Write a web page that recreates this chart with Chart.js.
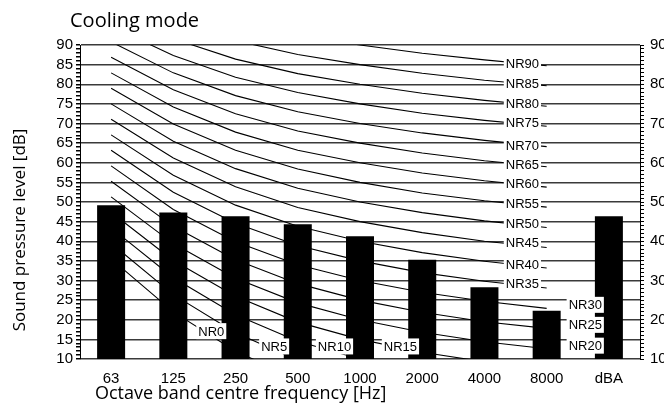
<!DOCTYPE html>
<html>
  <head>
    <script src="https://cdn.jsdelivr.net/npm/chart.js@4.4.1/dist/chart.umd.min.js"></script>
    <style>
      body {
        margin: 0;
        background-color: white;
        overflow: hidden;
      }
    </style>
  </head>
  <body>
    <canvas id="nrChart" width="700" height="405"></canvas>
  <script>
    // Octave bands and measured sound pressure levels (bars)
    const bands = ['63', '125', '250', '500', '1000', '2000', '4000', '8000', 'dBA'];
    const levels = [49.2, 47.3, 46.4, 44.3, 41.3, 35.3, 28.3, 22.3, 46.4];

    // NR curve values at 63 ... 8000 Hz (no value for dBA)
    const nrNames = ['NR0', 'NR5', 'NR10', 'NR15', 'NR20', 'NR25', 'NR30', 'NR35', 'NR40', 'NR45',
                     'NR50', 'NR55', 'NR60', 'NR65', 'NR70', 'NR75', 'NR80', 'NR85', 'NR90'];
    const nrValues = [
      [35.5, 22.0, 12.0, 4.8, 0, -3.5, -6.1, -8.0, null],
      [39.5, 26.4, 16.7, 9.7, 5, 1.6, -1.0, -2.9, null],
      [43.4, 30.7, 21.3, 14.5, 10, 6.7, 4.2, 2.3, null],
      [47.4, 35.1, 26.0, 19.4, 15, 11.7, 9.3, 7.5, null],
      [51.3, 39.4, 30.6, 24.3, 20, 16.8, 14.4, 12.6, null],
      [55.3, 43.8, 35.3, 29.2, 25, 21.9, 19.5, 17.8, null],
      [59.2, 48.1, 39.9, 34.0, 30, 27.0, 24.7, 22.9, null],
      [63.2, 52.5, 44.6, 38.9, 35, 32.0, 29.8, 28.1, null],
      [67.1, 56.8, 49.2, 43.8, 40, 37.1, 34.9, 33.2, null],
      [71.1, 61.2, 53.9, 48.6, 45, 42.2, 40.0, 38.4, null],
      [75.0, 65.5, 58.5, 53.5, 50, 47.3, 45.2, 43.5, null],
      [79.0, 69.9, 63.2, 58.4, 55, 52.3, 50.3, 48.7, null],
      [82.9, 74.2, 67.8, 63.2, 60, 57.4, 55.4, 53.8, null],
      [86.9, 78.6, 72.5, 68.1, 65, 62.5, 60.5, 59.0, null],
      [90.8, 82.9, 77.1, 73.0, 70, 67.6, 65.7, 64.1, null],
      [94.8, 87.3, 81.8, 77.9, 75, 72.6, 70.8, 69.3, null],
      [98.7, 91.6, 86.4, 82.7, 80, 77.7, 75.9, 74.4, null],
      [102.7, 96.0, 91.1, 87.6, 85, 82.8, 81.0, 79.6, null],
      [106.6, 100.3, 95.7, 92.5, 90, 87.9, 86.2, 84.7, null]
    ];
    // where each NR label sits (category index, dB)
    const nrLabelX = [1.61, 2.62, 3.59, 4.65, 7.62, 7.62, 7.62, 6.61, 6.61, 6.61,
                      6.61, 6.61, 6.61, 6.61, 6.61, 6.61, 6.61, 6.61, 6.61];
    const nrLabelY = [17.1, 13.2, 13.2, 13.2, 13.4, 18.7, 23.8, 29.3, 34.0, 39.6,
                      44.6, 49.7, 54.8, 59.7, 64.5, 70.2, 75.1, 80.1, 85.3];

    // labels drawn over the bars, with a white box behind
    const nrLabelPlugin = {
      id: 'nrLabels',
      afterDatasetsDraw(chart) {
        const ctx = chart.ctx;
        const xs = chart.scales.x, ys = chart.scales.y;
        ctx.save();
        ctx.font = '13px "Liberation Sans"';
        ctx.textAlign = 'center';
        ctx.textBaseline = 'middle';
        for (let i = 0; i < nrNames.length; i++) {
          const x = xs.getPixelForValue(nrLabelX[i]);
          const y = ys.getPixelForValue(nrLabelY[i]);
          const w = ctx.measureText(nrNames[i]).width + 4;
          ctx.fillStyle = 'white';
          ctx.fillRect(x - w / 2, y - 8, w, 16);
          ctx.fillStyle = 'black';
          ctx.fillText(nrNames[i], x, y + 1);
        }
        ctx.restore();
      }
    };

    // chart title and axis titles
    const titlePlugin = {
      id: 'titles',
      afterDraw(chart) {
        const ctx = chart.ctx;
        ctx.save();
        ctx.fillStyle = 'black';
        ctx.textBaseline = 'alphabetic';
        ctx.textAlign = 'left';
        ctx.font = '20px "Open Sans"';
        ctx.fillText('Cooling mode', 70, 27);
        ctx.font = '18px "Open Sans"';
        ctx.fillText('Octave band centre frequency [Hz]', 95, 399);
        ctx.translate(25, 230);
        ctx.rotate(-Math.PI / 2);
        ctx.textAlign = 'center';
        ctx.font = '17px "Open Sans"';
        ctx.fillText('Sound pressure level [dB]', 0, 0);
        ctx.restore();
      }
    };

    let datasets = [{
      type: 'bar',
      data: levels,
      backgroundColor: 'black',
      barPercentage: 0.45,
      categoryPercentage: 1,
      order: 0
    }];
    for (let i = 0; i < nrValues.length; i++) {
      datasets.push({
        type: 'line',
        label: nrNames[i],
        data: nrValues[i],
        borderColor: 'black',
        borderWidth: 1.1,
        pointRadius: 0,
        tension: 0,
        fill: false,
        order: 1
      });
    }

    var ctx = document.getElementById('nrChart').getContext('2d');
    var nrChart = new Chart(ctx, {
      type: 'bar',
      data: {
        labels: bands,
        datasets: datasets
      },
      options: {
        responsive: false,
        animation: false,
        devicePixelRatio: 1,
        layout: { padding: { top: 45, left: 0, right: 0, bottom: 0 } },
        plugins: {
          legend: { display: false },
          tooltip: { enabled: false }
        },
        scales: {
          x: {
            offset: true,
            grid: { display: false },
            border: { display: false },
            ticks: {
              color: 'black',
              padding: 3,
              font: { family: 'Liberation Sans', size: 15 }
            },
            afterFit(scale) { scale.height = 46; }
          },
          y: {
            min: 10,
            max: 90,
            position: 'left',
            border: { color: 'black', width: 1 },
            grid: {
              color: (c) => (c.tick && c.tick.value % 5 === 0) ? '#3a3a3a' : 'rgba(0,0,0,0)',
              lineWidth: 1.5,
              tickColor: 'black',
              tickLength: 4
            },
            ticks: {
              stepSize: 1,
              maxTicksLimit: 100,
              autoSkip: false,
              color: 'black',
              padding: 3,
              font: { family: 'Liberation Sans', size: 15 },
              callback: (v) => v % 5 === 0 ? v : ''
            },
            afterFit(scale) { scale.width = 80; }
          },
          y2: {
            min: 10,
            max: 90,
            position: 'right',
            border: { color: 'black', width: 1 },
            grid: {
              drawOnChartArea: false,
              tickColor: 'black',
              tickLength: 4
            },
            ticks: {
              stepSize: 1,
              maxTicksLimit: 100,
              autoSkip: false,
              color: 'black',
              padding: 6,
              font: { family: 'Liberation Sans', size: 15 },
              callback: (v) => v % 10 === 0 ? v : ''
            },
            afterFit(scale) { scale.width = 60; }
          }
        }
      },
      plugins: [nrLabelPlugin, titlePlugin]
    });
  </script>
  </body>
</html>
